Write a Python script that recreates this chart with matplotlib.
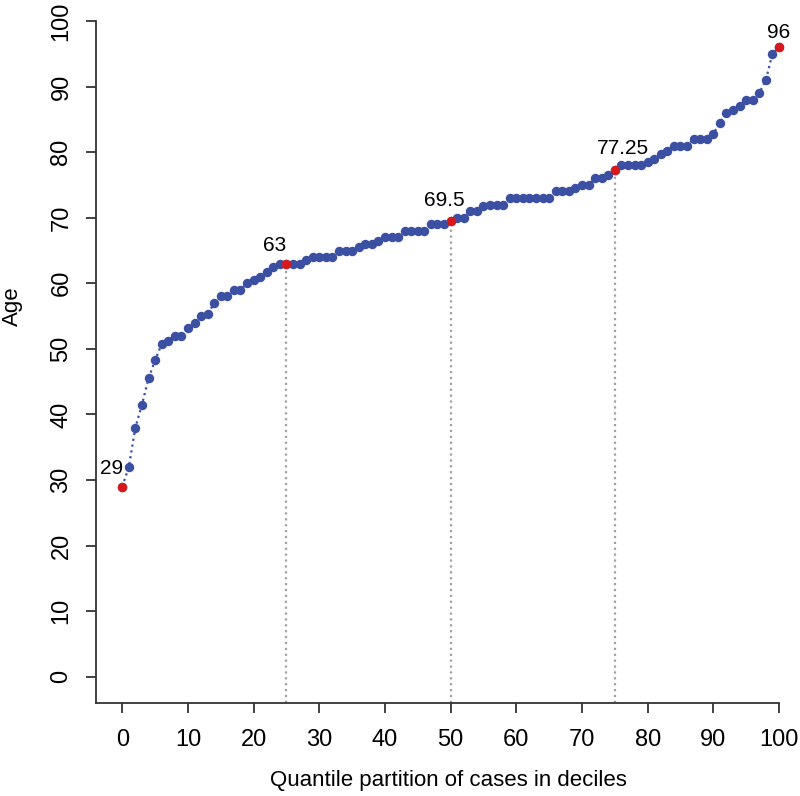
"""
Age by quantile partition of cases (percentile curve).
"""

import numpy as np
from matplotlib import pyplot as plt

plt.rcParams['font.family'] = ['Liberation Sans', 'DejaVu Sans']

percentiles = list(range(0, 101))
ages = [
    29, 32, 38, 41.5, 45.5, 48.25, 50.75, 51.25, 52, 52,
    53.25, 54, 55, 55.25, 57, 58, 58, 59, 59, 60,
    60.5, 61, 61.75, 62.5, 63, 63, 63, 63, 63.5, 64,
    64, 64, 64, 65, 65, 65, 65.5, 66, 66, 66.5,
    67, 67, 67, 68, 68, 68, 68, 69, 69, 69,
    69.5, 70, 70, 71, 71, 71.75, 72, 72, 72, 73,
    73, 73, 73, 73, 73, 73, 74, 74, 74, 74.5,
    75, 75, 76, 76, 76.5, 77.25, 78, 78, 78, 78,
    78.5, 79, 79.75, 80.25, 81, 81, 81, 82, 82, 82,
    82.75, 84.5, 86, 86.5, 87, 88, 88, 89, 91, 95,
    96,
]

# quartile points highlighted in red
quartiles = [0, 25, 50, 75, 100]
quartile_labels = ["29", "63", "69.5", "77.25", "96"]
label_offsets = [(-11, 18), (-12, 18), (-6, 20), (8, 22), (0, 15)]  # pixels

blue = "#3b4fa3"
red = "#d7191c"

fig = plt.figure(figsize=(8, 7.96), dpi=100)
ax = fig.add_axes([96 / 800, 1 - 703 / 796, 1 - 96 / 800, 703 / 796])

ax.plot(percentiles, ages, linestyle=":", color=blue, linewidth=1.6, zorder=2)
ax.plot(percentiles, ages, linestyle="none", marker="o", markersize=6.8,
        color=blue, markeredgewidth=0, zorder=3)

q_ages = [ages[q] for q in quartiles]
ax.plot(quartiles, q_ages, linestyle="none", marker="o", markersize=6.8,
        color=red, markeredgewidth=0, zorder=4)

# dotted guides from the axis up to the inner quartiles
for q in quartiles[1:-1]:
    ax.plot([q, q], [-4, ages[q]], linestyle=":", color="#a0a0a0",
            linewidth=1.6, zorder=1)

for q, lab, (dx, dy) in zip(quartiles, quartile_labels, label_offsets):
    ax.annotate(lab, (q, ages[q]), xytext=(dx * 0.72, dy * 0.72),
                textcoords="offset points", ha="center", va="center",
                fontsize=15)

ax.set_xlim(-4, 103.2)
ax.set_ylim(-4, 103.2)
ax.set_xticks(np.arange(0, 101, 10))
ax.set_yticks(np.arange(0, 101, 10))
ax.spines['top'].set_visible(False)
ax.spines['right'].set_visible(False)
ax.spines['left'].set_bounds(-4, 100)
ax.spines['bottom'].set_bounds(-4, 100)
for side in ['left', 'bottom']:
    ax.spines[side].set_color("#333333")
    ax.spines[side].set_linewidth(1.3)
ax.tick_params(length=7, width=1.3, color="#333333", labelsize=17)
ax.tick_params(axis="x", pad=12)
ax.tick_params(axis="y", pad=10)
for lab in ax.get_yticklabels():
    lab.set_rotation(90)
    lab.set_va("center")

ax.set_xlabel("Quantile partition of cases in deciles", fontsize=16)
ax.set_ylabel("Age", fontsize=16)
ax.xaxis.set_label_coords(0.5, -0.095)
ax.yaxis.set_label_coords(-0.104, 0.565)

fig.savefig("out.png", dpi=100)
